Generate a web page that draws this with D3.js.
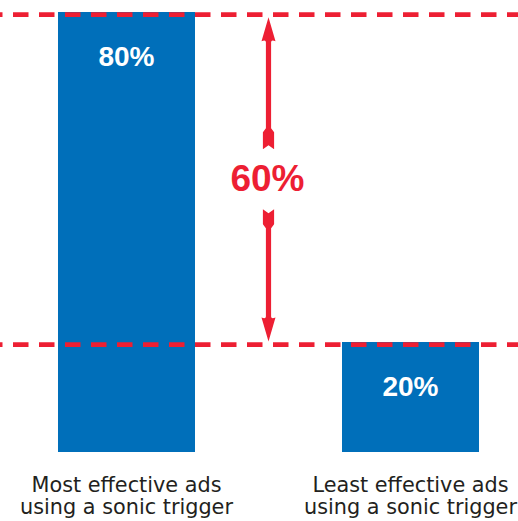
<!DOCTYPE html>
<html><head><meta charset="utf-8">
<script src="https://cdn.jsdelivr.net/npm/d3@7"></script>
<style>html,body{margin:0;padding:0;background:#fff;}</style>
</head><body>
<script>
const categories = ["Most effective ads|using a sonic trigger", "Least effective ads|using a sonic trigger"];
const values = [80, 20];
const valueLabels = ["80%", "20%"];
const diffLabel = "60%";

const W = 518, H = 521;
const blue = "#006fba", red = "#ed1f33";
const svg = d3.select("body").append("svg").attr("width", W).attr("height", H);

const x = d3.scaleBand().domain(categories).range([0, 537]).paddingInner(0.5176).paddingOuter(0.2042);
const y = d3.scaleLinear().domain([0, 80]).range([452, 12]);

// bars
svg.selectAll("rect.bar").data(values).enter().append("rect")
  .attr("x", (d, i) => x(categories[i])).attr("width", x.bandwidth())
  .attr("y", d => y(d)).attr("height", d => y(0) - y(d)).attr("fill", blue);

// value labels
svg.selectAll("text.val").data(values).enter().append("text")
  .attr("x", (d, i) => x(categories[i]) + x.bandwidth() / 2)
  .attr("y", d => y(d) + 54)
  .attr("text-anchor", "middle").attr("fill", "#fff")
  .attr("font-family", "Liberation Sans, Arial, sans-serif").attr("font-weight", "bold").attr("font-size", 28)
  .text((d, i) => valueLabels[i]);

// dashed reference lines
const hi = d3.max(values), lo = d3.min(values);
[hi, lo].forEach(v => {
  svg.append("line").attr("x1", 0).attr("x2", W)
    .attr("y1", y(v) + 2.7).attr("y2", y(v) + 2.7)
    .attr("stroke", red).attr("stroke-width", 4.7)
    .attr("stroke-dasharray", "15.5,10.5").attr("stroke-dashoffset", 13);
});

// arrow
const ax = (x(categories[0]) + x(categories[1])) / 2 + x.bandwidth() / 2;
const topTip = y(hi) + 5.2, botTip = y(lo) - 0.5;
const mid = (topTip + botTip) / 2;
const g = svg.append("g").attr("fill", red);
const sw = 2.6, hw = 7, fw = 5.6;
// upper piece
const uEnd = mid - 30, uFlare = mid - 49;
g.append("path").attr("d", [
  `M${ax},${topTip}`, `L${ax + hw},${topTip + 24}`, `Q${ax + sw},${topTip + 22} ${ax + sw},${topTip + 25}`,
  `L${ax + sw},${uFlare - 2}`, `L${ax + fw},${uFlare + 2}`, `L${ax + fw},${uEnd}`,
  `L${ax},${uEnd - 4}`, `L${ax - fw},${uEnd}`, `L${ax - fw},${uFlare + 2}`, `L${ax - sw},${uFlare - 2}`,
  `L${ax - sw},${topTip + 25}`, `Q${ax - sw},${topTip + 22} ${ax - hw},${topTip + 24}`, "Z"].join(" "));
// lower piece
const lStart = mid + 30, lFlare = mid + 47;
g.append("path").attr("d", [
  `M${ax},${botTip}`, `L${ax + hw},${botTip - 24}`, `Q${ax + sw},${botTip - 22} ${ax + sw},${botTip - 25}`,
  `L${ax + sw},${lFlare + 2}`, `L${ax + fw},${lFlare - 2}`, `L${ax + fw},${lStart}`,
  `L${ax},${lStart + 4}`, `L${ax - fw},${lStart}`, `L${ax - fw},${lFlare - 2}`, `L${ax - sw},${lFlare + 2}`,
  `L${ax - sw},${botTip - 25}`, `Q${ax - sw},${botTip - 22} ${ax - hw},${botTip - 24}`, "Z"].join(" "));

svg.append("text").attr("x", ax - 1).attr("y", mid + 12)
  .attr("text-anchor", "middle").attr("fill", red)
  .attr("font-family", "Liberation Sans, Arial, sans-serif").attr("font-weight", "bold").attr("font-size", 37)
  .text(diffLabel);

// category labels
const xAxis = d3.axisBottom(x).tickSize(0).tickFormat("");
const axG = svg.append("g").attr("transform", `translate(0,${y(0)})`).call(xAxis);
axG.select(".domain").remove();
axG.selectAll(".tick").each(function (d) {
  const tick = d3.select(this);
  d.split("|").forEach((line, i) => {
    tick.append("text")
      .attr("text-anchor", "middle").attr("fill", "#231f20")
      .attr("font-family", "DejaVu Sans, sans-serif").attr("font-size", 20.8)
      .attr("x", 0).attr("y", 39.5 + i * 22.5).text(line);
  });
});
</script>
</body></html>
